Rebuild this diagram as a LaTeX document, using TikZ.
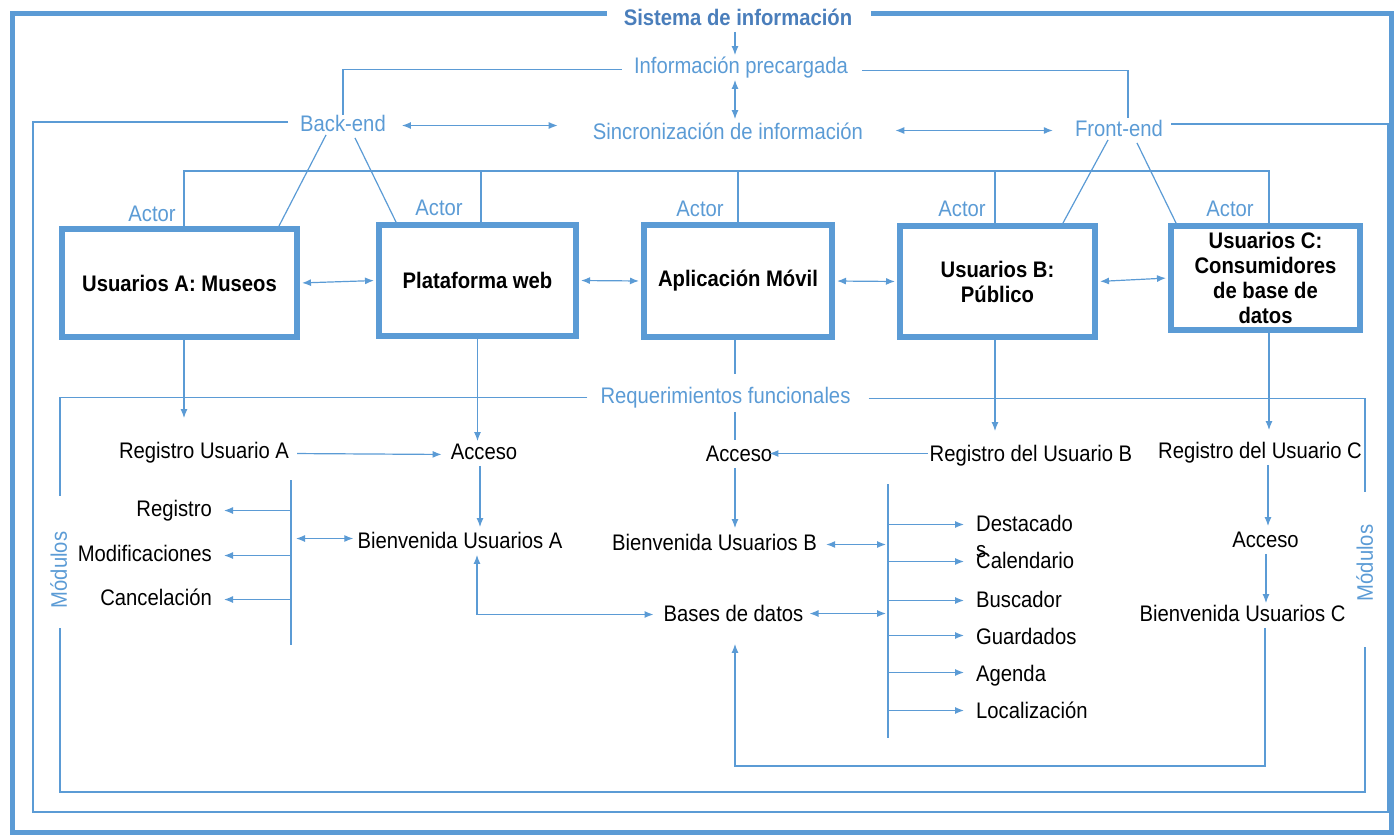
\documentclass[tikz,border=0pt]{standalone}
\usepackage{fontspec}
\setmainfont{Liberation Sans}[FakeStretch=0.9]
\usetikzlibrary{arrows.meta}
\definecolor{cline}{HTML}{5B9BD5}
\definecolor{clbl}{HTML}{5B9BD5}
\definecolor{ctitle}{HTML}{4A7EBB}
\begin{document}
\begin{tikzpicture}[x=1pt,y=-1pt,
  txt0/.style={inner sep=2pt,text height=16pt,text depth=4.5pt,font=\fontsize{22.5}{25}\selectfont},
  txt/.style={txt0,yshift=-2.5pt},
  btxt/.style={txt,text=clbl},
  modtxt/.style={txt0,text=clbl,rotate=90},
  bx/.style={draw=cline,line width=6pt,font=\bfseries\fontsize{22.5}{25}\selectfont,align=center,inner sep=0pt},
  thinln/.style={draw=cline,line width=1.2pt},
  arr/.style={thinln,-{Latex[length=9pt,width=7pt]}},
  dbl/.style={thinln,{Latex[length=9pt,width=7pt]}-{Latex[length=9pt,width=7pt]}},
  oframe/.style={draw=cline,line width=5pt},
]
\useasboundingbox (0,0) rectangle (1395,835);

% outer frame
\draw[oframe] (607,13) -| (12,832) -| (1391,13) -- (871,13);

% top labels
\node[btxt,font=\bfseries\fontsize{22.5}{25}\selectfont,text=ctitle] (title) at (738,17) {Sistema de información};
\node[btxt] (info) at (741,65) {Información precargada};
\node[btxt] (sinc) at (728,131) {Sincronización de información};
\node[btxt] (back) at (343,123) {Back-end};
\node[btxt] (front) at (1119,128) {Front-end};
\node[btxt] (act1) at (152,213) {Actor};
\node[btxt] (act2) at (439,207) {Actor};
\node[btxt] (act3) at (700,208) {Actor};
\node[btxt] (act4) at (962,208) {Actor};
\node[btxt] (act5) at (1230,208) {Actor};

% boxes
\node[bx,minimum width=235pt,minimum height=108pt] (A) at (179.5,283) {Usuarios A: Museos};
\node[bx,minimum width=197pt,minimum height=111pt] (P) at (477.5,280.5) {Plataforma web};
\node[bx,minimum width=188pt,minimum height=112pt] (M) at (738,281) {Aplicación Móvil};
\node[bx,minimum width=195pt,minimum height=111pt] (B) at (997.5,281.5) {Usuarios B:\\Público};
\node[bx,minimum width=189pt,minimum height=104pt] (C) at (1265.5,278) {Usuarios C:\\Consumidores\\de base de\\datos};

% lower texts
\node[btxt] (req) at (725.5,395) {Requerimientos funcionales};
\node[modtxt] (modL) at (61,570) {Módulos};
\node[modtxt] (modR) at (1367,563) {Módulos};
\node[txt] (regA) at (204,450) {Registro Usuario A};
\node[txt] (accA) at (484,451) {Acceso};
\node[txt] (bienA) at (460,540) {Bienvenida Usuarios A};
\node[txt,anchor=east] (reg) at (214,508) {Registro};
\node[txt,anchor=east] (modif) at (214,553) {Modificaciones};
\node[txt,anchor=east] (canc) at (214,597) {Cancelación};
\node[txt] (accB) at (739,453) {Acceso};
\node[txt] (regB) at (1031,453) {Registro del Usuario B};
\node[txt] (bienB) at (714.5,542) {Bienvenida Usuarios B};
\node[txt] (bases) at (733.5,613) {Bases de datos};
\node[inner sep=2pt,align=left,anchor=north west,font=\fontsize{22.5}{26}\selectfont] (dest) at (974,513) {Destacado\\s};
\node[txt,anchor=west] (cal) at (974,560) {Calendario};
\node[txt,anchor=west] (bus) at (974,599) {Buscador};
\node[txt,anchor=west] (guard) at (974,636) {Guardados};
\node[txt,anchor=west] (agen) at (974,673) {Agenda};
\node[txt,anchor=west] (loc) at (974,710) {Localización};
\node[txt] (regC) at (1260,450) {Registro del Usuario C};
\node[txt] (accC) at (1265.5,539) {Acceso};
\node[txt] (bienC) at (1242.5,613) {Bienvenida Usuarios C};

% coordinates
\coordinate (f2tl) at (33,122);
\coordinate (f2bl) at (33,812);
\coordinate (f2br) at (1388,812);
\coordinate (f2tr) at (1388,124);
\coordinate (actL) at (184,171);
\coordinate (mL1) at (60,496);
\coordinate (mL2) at (60,628);
\coordinate (mR1) at (1365,492);
\coordinate (mR2) at (1365,647);
\coordinate (f3br) at (1365,792);
\coordinate (vA1) at (291,480);
\coordinate (vA2) at (291,645);
\coordinate (vB1) at (888,484);
\coordinate (vB2) at (888,738);
\coordinate (loopY) at (0,766);
\coordinate (destA) at ([yshift=-11.5pt]dest.north west);
\coordinate (bA) at ([yshift=4pt]bienA.west);

% top connectors
\draw[arr] ([xshift=-3pt]title.south) -- ([xshift=-6pt]info.north);
\draw[dbl] ([xshift=-6pt]info.south) -- ([xshift=7pt,yshift=2pt]sinc.north);
\draw[thinln] ([xshift=-10pt,yshift=-2pt]info.west) -| ([yshift=-2pt]back.north);
\draw[thinln] ([xshift=12pt,yshift=-3pt]info.east) -| ([xshift=9pt]front.north);
\draw[dbl,shorten >=33pt] ([xshift=14pt]back.east) -- (back.east -| sinc.west);
\draw[dbl,shorten <=30pt,shorten >=20pt] (sinc.east |- front.west) -- (front.west);
\draw[thinln] ([xshift=-10pt]back.west |- f2tl) -- (f2tl) -- (f2bl) -- (f2br) -- (f2tr) -- ([xshift=6pt]front.east |- f2tr);

% slants
\draw[thinln] ([xshift=-17pt,yshift=3pt]back.south) -- ([xshift=-21pt]A.north east);
\draw[thinln] ([xshift=12pt]back.south) -- ([xshift=20pt]P.north west);
\draw[thinln] ([xshift=-11pt,yshift=3pt]front.south) -- ([xshift=-35pt]B.north east);
\draw[thinln] ([xshift=18pt]front.south) -- ([xshift=8pt]C.north west);

% actor line
\draw[thinln] ([xshift=4.5pt]A.north) |- ([xshift=3.5pt]C.north |- actL) -- ([xshift=3.5pt]C.north);
\draw[thinln] ([xshift=3.5pt]P.north) -- ([xshift=3.5pt]P.north |- actL);
\draw[thinln] (M.north) -- (M.north |- actL);
\draw[thinln] ([xshift=-2.5pt]B.north) -- ([xshift=-2.5pt]B.north |- actL);

% box arrows
\draw[dbl,shorten <=2pt,shorten >=2pt] (A.east) -- (P.west);
\draw[dbl,shorten <=2pt,shorten >=2pt] (P.east) -- (M.west);
\draw[dbl,shorten <=2pt,shorten >=2pt] (M.east) -- (B.west);
\draw[dbl,shorten <=2pt,shorten >=2pt] (B.east) -- (C.west);

% requirements frame
\draw[thinln] ([xshift=-11pt]req.west) -| (mL1);
\draw[thinln] ([xshift=16pt,yshift=-1pt]req.east) -| (mR1);
\draw[thinln] (mL2) |- (f3br) -- (mR2);

% column A
\draw[arr,shorten >=22pt] ([xshift=4.5pt]A.south) -- ([xshift=4.5pt]A.south |- regA.north);
\draw[arr] (P.south) -- (P.south |- accA.north);
\draw[arr,shorten <=6pt,shorten >=7pt] ([yshift=-1pt]regA.east) -- ([yshift=-1pt]accA.west);
\draw[arr,shorten >=3pt] ([xshift=-4pt]accA.south) -- ([xshift=-4pt]accA.south |- bienA.north);
\draw[thinln] (vA1) -- (vA2);
\draw[arr,shorten >=10pt] (vA1 |- reg.east) -- (reg.east);
\draw[arr,shorten >=10pt] (vA1 |- modif.east) -- (modif.east);
\draw[arr,shorten >=10pt] (vA1 |- canc.east) -- (canc.east);
\draw[dbl,shorten <=5pt,shorten >=2pt] (vA1 |- bA) -- (bA);
\draw[dbl,shorten <=8pt] ([yshift=1pt]bases.west) -| ([xshift=17pt]bienA.south);

% column Movil / B
\draw[thinln,shorten >=11pt] ([xshift=-3pt]M.south) -- ([xshift=-3pt]M.south |- req.north);
\draw[thinln,shorten <=2pt,shorten >=3pt] ([xshift=9.5pt]req.south) -- ([xshift=9.5pt]req.south |- accB.north);
\draw[arr,shorten >=12pt] ([xshift=-2.5pt]B.south) -- ([xshift=-2.5pt]B.south |- regB.north);
\draw[arr,shorten >=-5pt] ([yshift=2pt]regB.west) -- ([yshift=2pt]accB.east);
\draw[arr,shorten >=4pt] ([xshift=-4pt]accB.south) -- ([xshift=-4pt]accB.south |- bienB.north);
\draw[thinln] (vB1) -- (vB2);
\draw[dbl,shorten <=7pt,shorten >=2pt] (bienB.east) -- (bienB.east -| vB1);
\draw[dbl,shorten <=4pt,shorten >=2pt] ([yshift=2pt]bases.east) -- ([yshift=2pt]bases.east -| vB1);
\draw[arr,shorten >=10pt] (vB1 |- destA) -- (destA);
\draw[arr,shorten >=10pt] ([yshift=1pt]vB1 |- cal.west) -- ([yshift=1pt]cal.west);
\draw[arr,shorten >=10pt] ([yshift=1pt]vB1 |- bus.west) -- ([yshift=1pt]bus.west);
\draw[arr,shorten >=10pt] ([yshift=3pt]vB1 |- guard.west) -- ([yshift=3pt]guard.west);
\draw[arr,shorten >=10pt] ([yshift=3pt]vB1 |- agen.west) -- ([yshift=3pt]agen.west);
\draw[arr,shorten >=10pt] ([yshift=2pt]vB1 |- loc.west) -- ([yshift=2pt]loc.west);

% column C
\draw[arr,shorten >=10pt] ([xshift=3.5pt]C.south) -- ([xshift=3.5pt]C.south |- regC.north);
\draw[arr,shorten >=3pt] ([xshift=8pt]regC.south) -- ([xshift=8pt]regC.south |- accC.north);
\draw[arr] ([xshift=0.5pt]accC.south) -- ([xshift=0.5pt]accC.south |- bienC.north);
\draw[arr,shorten >=16pt] ([xshift=22.5pt]bienC.south) -- ([xshift=22.5pt]bienC.south |- loopY) -| ([xshift=1.5pt]bases.south);

\end{tikzpicture}
\end{document}
